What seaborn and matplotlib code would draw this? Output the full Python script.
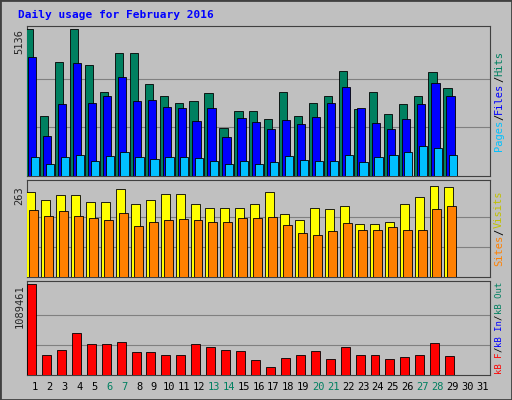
import matplotlib
matplotlib.use("Agg")
import matplotlib.pyplot as plt
import seaborn as sns
import numpy as np

sns.set_style("white")
plt.rcParams['font.family'] = ['DejaVu Sans Mono', 'DejaVu Sans']

days = list(range(1, 32))
hits = [5136, 2096, 3983, 5136, 3878, 2935, 4297, 4297, 3214, 2795, 2551, 2620, 2900, 1677, 2271,
        2271, 1991, 2935, 2096, 2551, 2795, 3668, 2341, 2935, 2166, 2515, 2795, 3633, 3074]
files = [4158, 1398, 2516, 3948, 2551, 2795, 3459, 2620, 2655, 2411, 2376, 1922, 2376, 1363, 2027,
         1887, 1642, 1957, 1817, 2061, 2551, 3110, 2376, 1852, 1642, 1991, 2516, 3249, 2795]
pages = [664, 419, 664, 734, 524, 699, 839, 664, 594, 664, 664, 629, 524, 419, 524,
         419, 489, 699, 559, 524, 524, 734, 489, 664, 734, 839, 1048, 978, 734]
visits = [246, 223, 237, 237, 217, 217, 254, 211, 223, 240, 240, 211, 199, 199, 199,
          211, 246, 182, 165, 199, 197, 205, 153, 153, 159, 211, 231, 263, 260]
sites = [194, 176, 191, 176, 171, 165, 185, 147, 159, 165, 168, 165, 159, 159, 171,
         171, 173, 150, 127, 121, 133, 156, 136, 136, 145, 136, 136, 197, 205]
kbytes = [1089461, 239000, 299000, 503000, 371000, 371000, 395000, 275000, 275000, 239000,
          239000, 371000, 335000, 299000, 287000, 180000, 96000, 204000, 239000, 287000,
          192000, 335000, 239000, 239000, 192000, 215000, 239000, 383000, 227000]
weekend = [6, 7, 13, 14, 20, 21, 27, 28]

BG = "#C0C0C0"
fig = plt.figure(figsize=(5.12, 4.0), dpi=100, facecolor=BG)
W, H = 512, 400

def panel(top, bottom):
    return fig.add_axes([27 / W, (H - bottom) / H, 463 / W, (bottom - top) / H])

def style(ax, ymax, peaktop, top, bottom, label):
    ax.set_facecolor(BG)
    ax.set_xlim(0.5, 31.5)
    ax.set_ylim(0, ymax * (bottom - top) / (bottom - peaktop))
    for f in (0.33, 0.66):
        ax.axhline(ymax * f, color="#808080", lw=0.8, zorder=0)
    ax.set_xticks([])
    ax.set_yticks([ymax])
    ax.set_yticklabels([label], rotation=90, va="top", fontsize=7.5)
    ax.tick_params(axis="y", length=0, pad=2)
    for s in ax.spines.values():
        s.set_color("#404040")
        s.set_linewidth(0.8)

d = np.arange(1, len(hits) + 1)
ek = dict(edgecolor="black", linewidth=0.6, align="edge", zorder=3)

ax1 = panel(26, 176)
ax1.bar(d - 0.62, hits, 0.55, color="#008060", **ek)
ax1.bar(d - 0.42, files, 0.55, color="#0000FF", **ek)
ax1.bar(d - 0.24, pages, 0.55, color="#00C0FF", **ek)
style(ax1, max(hits), 29, 26, 176, str(max(hits)))

ax2 = panel(180, 277)
ax2.bar(d - 0.55, visits, 0.6, color="#FFFF00", **ek)
ax2.bar(d - 0.35, sites, 0.6, color="#FF8000", **ek)
style(ax2, max(visits), 186, 180, 277, str(max(visits)))

ax3 = panel(281, 375)
ax3.bar(d - 0.5, kbytes, 0.6, color="#FF0000", **ek)
style(ax3, max(kbytes), 284, 281, 375, str(max(kbytes)))
ax3.set_xticks(days)
ax3.set_xticklabels([str(x) for x in days], fontsize=7.5)
for t, x in zip(ax3.get_xticklabels(), days):
    t.set_color("#008060" if x in weekend else "black")
ax3.tick_params(axis="x", length=0, pad=5)

fig.text(18 / W, 1 - 15 / H, "Daily usage for February 2016", color="#0000FF",
         fontsize=8, fontweight="bold", va="center")

def side(y0, y1, parts, fs):
    x = 499 / W
    total = sum(len(p) for p, _ in parts)
    ymid = (H - (y0 + y1) / 2) / H
    ch = 0.602 * fs * 100 / 72 / H
    pos = ymid - total * ch / 2
    for txt, col in parts:
        fig.text(x, pos, txt, color=col, rotation=90, fontsize=fs, va="bottom", ha="center")
        pos += len(txt) * ch

side(26, 176, [("Pages", "#00C0FF"), ("/", "#000000"), ("Files", "#0000FF"), ("/", "#000000"), ("Hits", "#008060")], 7.5)
side(180, 277, [("Sites", "#FF8000"), ("/", "#000000"), ("Visits", "#C0C000")], 7.5)
side(281, 375, [("kB F", "#FF0000"), ("/", "#000000"), ("kB In", "#0000FF"), ("/", "#000000"), ("kB Out", "#008060")], 6.5)

fig.patches.append(matplotlib.patches.Rectangle((0, 0), 1, 1, transform=fig.transFigure,
                                                fill=False, edgecolor="#404040", lw=2))
fig.savefig("out.png", dpi=100, facecolor=BG)
